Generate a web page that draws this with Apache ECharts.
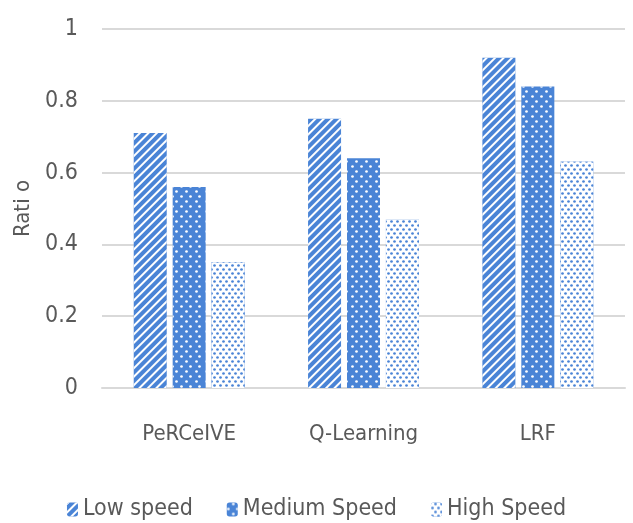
<!DOCTYPE html>
<html>
<head>
<meta charset="utf-8">
<script src="https://cdn.jsdelivr.net/npm/echarts@6/dist/echarts.min.js"></script>
<style>
  html, body { margin: 0; padding: 0; background: #fff; }
  #main { width: 633px; height: 523px; }
</style>
</head>
<body>
<div id="main"></div>
<script>
// data
const categories = ['PeRCeIVE', 'Q-Learning', 'LRF'];
const lowSpeed = [0.71, 0.75, 0.92];
const mediumSpeed = [0.56, 0.64, 0.84];
const highSpeed = [0.35, 0.47, 0.63];
const yTicks = [0, 0.2, 0.4, 0.6, 0.8, 1];

const BLUE = '#4a84d6';
const GREY = '#595959';
const FONT = '"DejaVu Sans Condensed", "Liberation Sans Narrow", sans-serif';

const chart = echarts.init(document.getElementById('main'), null, { renderer: 'canvas' });

// one decal per series
const decals = {
  // thin white diagonal stripes on blue
  low: {
    symbol: 'rect',
    color: '#ffffff',
    dashArrayX: [1, 0],
    dashArrayY: [2, 4],
    rotation: -Math.PI / 4
  },
  // staggered white dots on blue
  medium: {
    symbol: 'circle',
    symbolSize: 0.9,
    color: '#ffffff',
    dashArrayX: [[3, 6], [0, 4.5, 3, 1.5]],
    dashArrayY: [3, 2]
  },
  // dense blue dots on white
  high: {
    symbol: 'circle',
    symbolSize: 0.9,
    color: BLUE,
    backgroundColor: '#ffffff',
    dashArrayX: [[3, 3], [0, 3, 3, 0]],
    dashArrayY: [2.5, 1]
  }
};

function barSeries(name, data, decal) {
  return {
    name: name,
    type: 'bar',
    data: data,
    barWidth: 33,
    barGap: '18%',
    itemStyle: { color: BLUE, decal: decal }
  };
}

chart.setOption({
  animation: false,
  textStyle: { fontFamily: FONT },
  grid: { left: 102, right: 8, top: 29, bottom: 135 },
  legend: {
    bottom: -3,
    left: 'center',
    itemWidth: 11,
    itemHeight: 14,
    itemGap: 34,
    textStyle: { fontSize: 23, color: GREY, fontFamily: FONT },
    data: ['Low speed', 'Medium Speed', 'High Speed']
  },
  xAxis: {
    type: 'category',
    data: categories,
    axisLine: { lineStyle: { color: '#d9d9d9', width: 2 } },
    axisTick: { show: false },
    axisLabel: { fontSize: 22, color: GREY, margin: 35, fontFamily: FONT }
  },
  yAxis: {
    type: 'value',
    min: yTicks[0],
    max: yTicks[yTicks.length - 1],
    interval: 0.2,
    name: 'Rati o',
    nameLocation: 'middle',
    nameGap: 68,
    nameRotate: 90,
    nameTextStyle: { fontSize: 22, color: GREY, fontFamily: FONT },
    axisLine: { show: false },
    axisTick: { show: false },
    axisLabel: { fontSize: 23, color: GREY, margin: 24, fontFamily: FONT },
    splitLine: { lineStyle: { color: '#d9d9d9', width: 2 } }
  },
  series: [
    barSeries('Low speed', lowSpeed, decals.low),
    barSeries('Medium Speed', mediumSpeed, decals.medium),
    barSeries('High Speed', highSpeed, decals.high)
  ]
});
</script>
</body>
</html>
